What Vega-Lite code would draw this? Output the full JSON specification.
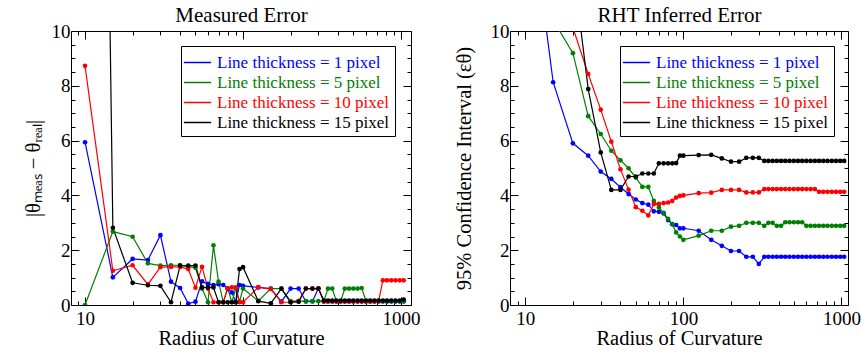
{
"$schema": "https://vega.github.io/schema/vega-lite/v6.json",
"padding": {"left": 22, "top": 4, "right": 5, "bottom": 0},
"config": {
  "font": "Liberation Serif, serif",
  "view": {"stroke": "#000", "strokeWidth": 1},
  "style": {"guide-label": {"font": "Liberation Serif, serif", "fontWeight": "normal"}, "guide-title": {"font": "Liberation Serif, serif", "fontWeight": "normal"}},
  "axis": {"labelFont": "Liberation Serif, serif", "labelFontSize": 19, "labelColor": "#000", "titleFont": "Liberation Serif, serif", "titleFontSize": 20.5, "titleFontWeight": "normal", "titleColor": "#000", "domain": false, "tickColor": "#000", "grid": false, "labelOverlap": false, "labelFlush": false},
  "legend": {"orient": "none", "legendX": 110, "legendY": 15, "padding": 5, "strokeColor": "#000", "fillColor": "#fff", "symbolType": "M-1.3,0H1.3", "symbolSize": 441, "symbolStrokeWidth": 1.5, "labelFontSize": 17, "labelFont": "Liberation Serif, serif", "labelOffset": 8, "rowPadding": 0, "labelLimit": 300}
},
"datasets": {
"measured": [
{"r":10,"s":"a","v":5.94},{"r":15,"s":"a","v":1.01},{"r":20,"s":"a","v":1.68},{"r":25,"s":"a","v":1.64},{"r":30,"s":"a","v":2.55},{"r":35,"s":"a","v":0.85},{"r":40,"s":"a","v":0.62},{"r":45,"s":"a","v":0.05},{"r":50,"s":"a","v":0.12},{"r":55,"s":"a","v":0.86},{"r":60,"s":"a","v":0.77},{"r":65,"s":"a","v":0.73},{"r":70,"s":"a","v":0.76},{"r":75,"s":"a","v":0.73},{"r":80,"s":"a","v":0.58},{"r":85,"s":"a","v":0.46},{"r":90,"s":"a","v":0.1},{"r":95,"s":"a","v":0.73},{"r":100,"s":"a","v":0.7},{"r":125,"s":"a","v":0.64},{"r":150,"s":"a","v":0.6},{"r":175,"s":"a","v":0.12},{"r":200,"s":"a","v":0.6},{"r":225,"s":"a","v":0.6},{"r":250,"s":"a","v":0.13},{"r":275,"s":"a","v":0.13},{"r":300,"s":"a","v":0.6},{"r":325,"s":"a","v":0.13},{"r":345,"s":"a","v":0.13},{"r":367,"s":"a","v":0.13},{"r":390,"s":"a","v":0.13},{"r":415,"s":"a","v":0.13},{"r":441,"s":"a","v":0.13},{"r":469,"s":"a","v":0.13},{"r":499,"s":"a","v":0.13},{"r":531,"s":"a","v":0.13},{"r":564,"s":"a","v":0.13},{"r":600,"s":"a","v":0.13},{"r":638,"s":"a","v":0.13},{"r":679,"s":"a","v":0.13},{"r":722,"s":"a","v":0.13},{"r":768,"s":"a","v":0.13},{"r":816,"s":"a","v":0.13},{"r":868,"s":"a","v":0.13},{"r":923,"s":"a","v":0.13},{"r":982,"s":"a","v":0.13},{"r":1040,"s":"a","v":0.13},
{"r":10,"s":"b","v":0},{"r":15,"s":"b","v":2.68},{"r":20,"s":"b","v":2.49},{"r":25,"s":"b","v":1.52},{"r":30,"s":"b","v":1.44},{"r":35,"s":"b","v":1.45},{"r":40,"s":"b","v":1.45},{"r":45,"s":"b","v":1.4},{"r":50,"s":"b","v":1.36},{"r":55,"s":"b","v":0.6},{"r":60,"s":"b","v":0.1},{"r":65,"s":"b","v":2.18},{"r":70,"s":"b","v":0.85},{"r":75,"s":"b","v":0.1},{"r":80,"s":"b","v":0.62},{"r":85,"s":"b","v":0.1},{"r":90,"s":"b","v":0.6},{"r":95,"s":"b","v":0.12},{"r":100,"s":"b","v":0.6},{"r":125,"s":"b","v":0.15},{"r":150,"s":"b","v":0.6},{"r":175,"s":"b","v":0.6},{"r":200,"s":"b","v":0.14},{"r":225,"s":"b","v":0.14},{"r":250,"s":"b","v":0.14},{"r":275,"s":"b","v":0.14},{"r":300,"s":"b","v":0.14},{"r":325,"s":"b","v":0.14},{"r":345,"s":"b","v":0.6},{"r":367,"s":"b","v":0.6},{"r":390,"s":"b","v":0.14},{"r":415,"s":"b","v":0.14},{"r":441,"s":"b","v":0.6},{"r":469,"s":"b","v":0.6},{"r":499,"s":"b","v":0.6},{"r":531,"s":"b","v":0.6},{"r":564,"s":"b","v":0.62},{"r":600,"s":"b","v":0.14},{"r":638,"s":"b","v":0.14},{"r":679,"s":"b","v":0.14},{"r":722,"s":"b","v":0.14},{"r":768,"s":"b","v":0.14},{"r":816,"s":"b","v":0.14},{"r":868,"s":"b","v":0.14},{"r":923,"s":"b","v":0.14},{"r":982,"s":"b","v":0.14},{"r":1040,"s":"b","v":0.14},
{"r":10,"s":"c","v":8.73},{"r":15,"s":"c","v":1.25},{"r":20,"s":"c","v":1.45},{"r":25,"s":"c","v":0.75},{"r":30,"s":"c","v":1.38},{"r":35,"s":"c","v":1.39},{"r":40,"s":"c","v":1.39},{"r":45,"s":"c","v":1.31},{"r":50,"s":"c","v":0.63},{"r":55,"s":"c","v":1.39},{"r":60,"s":"c","v":0.6},{"r":65,"s":"c","v":0.1},{"r":70,"s":"c","v":0.1},{"r":75,"s":"c","v":0.1},{"r":80,"s":"c","v":0.6},{"r":85,"s":"c","v":0.64},{"r":90,"s":"c","v":0.64},{"r":95,"s":"c","v":0.1},{"r":100,"s":"c","v":0.1},{"r":125,"s":"c","v":0.65},{"r":150,"s":"c","v":0.58},{"r":175,"s":"c","v":0.1},{"r":200,"s":"c","v":0.1},{"r":225,"s":"c","v":0.14},{"r":250,"s":"c","v":0.6},{"r":275,"s":"c","v":0.6},{"r":300,"s":"c","v":0.6},{"r":325,"s":"c","v":0.13},{"r":345,"s":"c","v":0.13},{"r":367,"s":"c","v":0.13},{"r":390,"s":"c","v":0.13},{"r":415,"s":"c","v":0.13},{"r":441,"s":"c","v":0.13},{"r":469,"s":"c","v":0.13},{"r":499,"s":"c","v":0.13},{"r":531,"s":"c","v":0.13},{"r":564,"s":"c","v":0.13},{"r":600,"s":"c","v":0.13},{"r":638,"s":"c","v":0.13},{"r":679,"s":"c","v":0.13},{"r":722,"s":"c","v":0.15},{"r":768,"s":"c","v":0.9},{"r":816,"s":"c","v":0.9},{"r":868,"s":"c","v":0.9},{"r":923,"s":"c","v":0.9},{"r":982,"s":"c","v":0.9},{"r":1040,"s":"c","v":0.9},
{"r":10,"s":"d","v":75},{"r":15,"s":"d","v":2.82},{"r":20,"s":"d","v":0.81},{"r":25,"s":"d","v":0.72},{"r":30,"s":"d","v":0.7},{"r":35,"s":"d","v":0.1},{"r":40,"s":"d","v":1.44},{"r":45,"s":"d","v":1.44},{"r":50,"s":"d","v":1.44},{"r":55,"s":"d","v":0.64},{"r":60,"s":"d","v":0.64},{"r":65,"s":"d","v":0.64},{"r":70,"s":"d","v":0.1},{"r":75,"s":"d","v":0.1},{"r":80,"s":"d","v":0.1},{"r":85,"s":"d","v":0.1},{"r":90,"s":"d","v":0.1},{"r":95,"s":"d","v":1.31},{"r":100,"s":"d","v":1.38},{"r":125,"s":"d","v":0.14},{"r":150,"s":"d","v":0.06},{"r":175,"s":"d","v":0.6},{"r":200,"s":"d","v":0.1},{"r":225,"s":"d","v":0.12},{"r":250,"s":"d","v":0.6},{"r":275,"s":"d","v":0.6},{"r":300,"s":"d","v":0.6},{"r":325,"s":"d","v":0.16},{"r":345,"s":"d","v":0.16},{"r":367,"s":"d","v":0.16},{"r":390,"s":"d","v":0.16},{"r":415,"s":"d","v":0.16},{"r":441,"s":"d","v":0.16},{"r":469,"s":"d","v":0.16},{"r":499,"s":"d","v":0.16},{"r":531,"s":"d","v":0.16},{"r":564,"s":"d","v":0.16},{"r":600,"s":"d","v":0.16},{"r":638,"s":"d","v":0.16},{"r":679,"s":"d","v":0.16},{"r":722,"s":"d","v":0.16},{"r":768,"s":"d","v":0.16},{"r":816,"s":"d","v":0.16},{"r":868,"s":"d","v":0.16},{"r":923,"s":"d","v":0.16},{"r":982,"s":"d","v":0.16},{"r":1040,"s":"d","v":0.2}
],
"inferred": [
{"r":10,"s":"a","v":16},{"r":15,"s":"a","v":8.13},{"r":20,"s":"a","v":5.9},{"r":25,"s":"a","v":5.45},{"r":30,"s":"a","v":4.87},{"r":35,"s":"a","v":4.6},{"r":40,"s":"a","v":4.3},{"r":45,"s":"a","v":4.05},{"r":50,"s":"a","v":3.85},{"r":55,"s":"a","v":3.72},{"r":60,"s":"a","v":3.66},{"r":65,"s":"a","v":3.42},{"r":70,"s":"a","v":3.4},{"r":75,"s":"a","v":3.34},{"r":80,"s":"a","v":3.1},{"r":85,"s":"a","v":2.95},{"r":90,"s":"a","v":2.92},{"r":95,"s":"a","v":2.8},{"r":100,"s":"a","v":2.8},{"r":125,"s":"a","v":2.71},{"r":150,"s":"a","v":2.38},{"r":175,"s":"a","v":2.16},{"r":200,"s":"a","v":1.97},{"r":225,"s":"a","v":1.97},{"r":250,"s":"a","v":1.76},{"r":275,"s":"a","v":1.76},{"r":300,"s":"a","v":1.5},{"r":325,"s":"a","v":1.76},{"r":345,"s":"a","v":1.76},{"r":367,"s":"a","v":1.76},{"r":390,"s":"a","v":1.76},{"r":415,"s":"a","v":1.76},{"r":441,"s":"a","v":1.76},{"r":469,"s":"a","v":1.76},{"r":499,"s":"a","v":1.76},{"r":531,"s":"a","v":1.76},{"r":564,"s":"a","v":1.76},{"r":600,"s":"a","v":1.76},{"r":638,"s":"a","v":1.76},{"r":679,"s":"a","v":1.76},{"r":722,"s":"a","v":1.76},{"r":768,"s":"a","v":1.76},{"r":816,"s":"a","v":1.76},{"r":868,"s":"a","v":1.76},{"r":923,"s":"a","v":1.76},{"r":982,"s":"a","v":1.76},{"r":1040,"s":"a","v":1.76},
{"r":10,"s":"b","v":14},{"r":15,"s":"b","v":10.4},{"r":20,"s":"b","v":9.19},{"r":25,"s":"b","v":6.89},{"r":30,"s":"b","v":6.24},{"r":35,"s":"b","v":5.63},{"r":40,"s":"b","v":5.28},{"r":45,"s":"b","v":4.99},{"r":50,"s":"b","v":4.65},{"r":55,"s":"b","v":4.31},{"r":60,"s":"b","v":4.31},{"r":65,"s":"b","v":3.8},{"r":70,"s":"b","v":3.56},{"r":75,"s":"b","v":3.36},{"r":80,"s":"b","v":3.14},{"r":85,"s":"b","v":2.95},{"r":90,"s":"b","v":2.65},{"r":95,"s":"b","v":2.5},{"r":100,"s":"b","v":2.38},{"r":125,"s":"b","v":2.53},{"r":150,"s":"b","v":2.71},{"r":175,"s":"b","v":2.71},{"r":200,"s":"b","v":2.86},{"r":225,"s":"b","v":2.89},{"r":250,"s":"b","v":3.0},{"r":275,"s":"b","v":3.0},{"r":300,"s":"b","v":3.0},{"r":325,"s":"b","v":2.89},{"r":345,"s":"b","v":3.0},{"r":367,"s":"b","v":3.0},{"r":390,"s":"b","v":2.89},{"r":415,"s":"b","v":2.89},{"r":441,"s":"b","v":3.02},{"r":469,"s":"b","v":3.02},{"r":499,"s":"b","v":3.02},{"r":531,"s":"b","v":3.02},{"r":564,"s":"b","v":3.02},{"r":600,"s":"b","v":2.89},{"r":638,"s":"b","v":2.89},{"r":679,"s":"b","v":2.89},{"r":722,"s":"b","v":2.89},{"r":768,"s":"b","v":2.89},{"r":816,"s":"b","v":2.89},{"r":868,"s":"b","v":2.89},{"r":923,"s":"b","v":2.89},{"r":982,"s":"b","v":2.89},{"r":1040,"s":"b","v":2.89},
{"r":10,"s":"c","v":16},{"r":15,"s":"c","v":12.5},{"r":20,"s":"c","v":10.12},{"r":25,"s":"c","v":8.43},{"r":30,"s":"c","v":7.13},{"r":35,"s":"c","v":5.96},{"r":40,"s":"c","v":4.95},{"r":45,"s":"c","v":4.21},{"r":50,"s":"c","v":3.57},{"r":55,"s":"c","v":3.44},{"r":60,"s":"c","v":3.27},{"r":65,"s":"c","v":3.69},{"r":70,"s":"c","v":3.69},{"r":75,"s":"c","v":3.72},{"r":80,"s":"c","v":3.74},{"r":85,"s":"c","v":3.8},{"r":90,"s":"c","v":3.92},{"r":95,"s":"c","v":3.98},{"r":100,"s":"c","v":4.0},{"r":125,"s":"c","v":4.08},{"r":150,"s":"c","v":4.1},{"r":175,"s":"c","v":4.2},{"r":200,"s":"c","v":4.2},{"r":225,"s":"c","v":4.2},{"r":250,"s":"c","v":4.11},{"r":275,"s":"c","v":4.11},{"r":300,"s":"c","v":4.11},{"r":325,"s":"c","v":4.23},{"r":345,"s":"c","v":4.23},{"r":367,"s":"c","v":4.23},{"r":390,"s":"c","v":4.23},{"r":415,"s":"c","v":4.23},{"r":441,"s":"c","v":4.23},{"r":469,"s":"c","v":4.23},{"r":499,"s":"c","v":4.23},{"r":531,"s":"c","v":4.23},{"r":564,"s":"c","v":4.23},{"r":600,"s":"c","v":4.23},{"r":638,"s":"c","v":4.23},{"r":679,"s":"c","v":4.23},{"r":722,"s":"c","v":4.13},{"r":768,"s":"c","v":4.13},{"r":816,"s":"c","v":4.13},{"r":868,"s":"c","v":4.13},{"r":923,"s":"c","v":4.13},{"r":982,"s":"c","v":4.13},{"r":1040,"s":"c","v":4.13},
{"r":10,"s":"d","v":20},{"r":15,"s":"d","v":16},{"r":20,"s":"d","v":12.4},{"r":25,"s":"d","v":7.88},{"r":30,"s":"d","v":5.57},{"r":35,"s":"d","v":4.2},{"r":40,"s":"d","v":4.2},{"r":45,"s":"d","v":4.69},{"r":50,"s":"d","v":4.69},{"r":55,"s":"d","v":4.8},{"r":60,"s":"d","v":4.8},{"r":65,"s":"d","v":4.8},{"r":70,"s":"d","v":5.17},{"r":75,"s":"d","v":5.17},{"r":80,"s":"d","v":5.17},{"r":85,"s":"d","v":5.17},{"r":90,"s":"d","v":5.18},{"r":95,"s":"d","v":5.45},{"r":100,"s":"d","v":5.45},{"r":125,"s":"d","v":5.47},{"r":150,"s":"d","v":5.48},{"r":175,"s":"d","v":5.35},{"r":200,"s":"d","v":5.23},{"r":225,"s":"d","v":5.23},{"r":250,"s":"d","v":5.37},{"r":275,"s":"d","v":5.37},{"r":300,"s":"d","v":5.37},{"r":325,"s":"d","v":5.26},{"r":345,"s":"d","v":5.26},{"r":367,"s":"d","v":5.26},{"r":390,"s":"d","v":5.26},{"r":415,"s":"d","v":5.26},{"r":441,"s":"d","v":5.26},{"r":469,"s":"d","v":5.26},{"r":499,"s":"d","v":5.26},{"r":531,"s":"d","v":5.26},{"r":564,"s":"d","v":5.26},{"r":600,"s":"d","v":5.26},{"r":638,"s":"d","v":5.26},{"r":679,"s":"d","v":5.26},{"r":722,"s":"d","v":5.26},{"r":768,"s":"d","v":5.26},{"r":816,"s":"d","v":5.26},{"r":868,"s":"d","v":5.26},{"r":923,"s":"d","v":5.26},{"r":982,"s":"d","v":5.26},{"r":1040,"s":"d","v":5.26}
]
},
"spacing": 32,
"resolve": {"scale": {"color": "independent"}, "legend": {"color": "independent"}},
"hconcat": [
{
  "width": 340, "height": 274,
  "data": {"name": "measured"},
  "layer": [
    {"mark": {"type": "line", "clip": true, "strokeWidth": 1.2},
     "encoding": {
       "x": {"field": "r", "type": "quantitative", "scale": {"type": "log", "domain": [8.15, 1157], "nice": false},
             "axis": {"orient": "bottom", "title": "Radius of Curvature", "values": [9,10,20,30,40,50,60,70,80,90,100,200,300,400,500,600,700,800,900,1000],
                      "labelExpr": "datum.value == 10 || datum.value == 100 || datum.value == 1000 ? '' + datum.value : ''",
                      "tickSize": {"condition": {"test": "datum.value == 10 || datum.value == 100 || datum.value == 1000", "value": -8}, "value": -4},
                      "labelFont": "Liberation Serif, serif", "titleFont": "Liberation Serif, serif", "titleFontWeight": "normal",
                      "labelPadding": 12, "titlePadding": -4}},
       "y": {"field": "v", "type": "quantitative", "scale": {"domain": [0, 10], "nice": false},
             "axis": {"orient": "left", "title": "|θₘₑₐₛ − θᵣₑₐₗ|", "values": [0,0.5,1,1.5,2,2.5,3,3.5,4,4.5,5,5.5,6,6.5,7,7.5,8,8.5,9,9.5,10],
                      "labelExpr": "datum.value % 2 == 0 ? '' + datum.value : ''",
                      "tickSize": {"condition": {"test": "datum.value % 2 == 0", "value": -8}, "value": -4},
                      "labelFont": "Liberation Serif, serif", "titleFont": "Liberation Serif, serif", "titleFontWeight": "normal",
                      "labelPadding": 9, "titlePadding": 8}},
       "color": {"field": "s", "type": "nominal", "scale": {"domain": ["a","b","c","d"], "range": ["#0000ff","#008000","#ff0000","#000000"]},
                 "legend": {"title": null,
                            "labelExpr": "datum.label == 'a' ? 'Line thickness = 1 pixel' : datum.label == 'b' ? 'Line thickness = 5 pixel' : datum.label == 'c' ? 'Line thickness = 10 pixel' : 'Line thickness = 15 pixel'",
                            "encode": {"labels": {"update": {"fill": {"signal": "datum.value == 'a' ? '#0000ff' : datum.value == 'b' ? '#008000' : datum.value == 'c' ? '#ff0000' : '#000000'"}}}}}}
     }},
    {"mark": {"type": "point", "filled": true, "size": 22, "opacity": 1, "clip": true},
     "encoding": {
       "x": {"field": "r", "type": "quantitative", "scale": {"type": "log", "domain": [8.15, 1157], "nice": false},
             "axis": {"orient": "top", "title": "Measured Error", "titleFontSize": 21, "titlePadding": 5, "labels": false, "values": [9,10,20,30,40,50,60,70,80,90,100,200,300,400,500,600,700,800,900,1000],
                      "tickSize": {"condition": {"test": "datum.value == 10 || datum.value == 100 || datum.value == 1000", "value": -8}, "value": -4}}},
       "y": {"field": "v", "type": "quantitative", "scale": {"domain": [0, 10], "nice": false},
             "axis": {"orient": "right", "title": null, "labels": false, "values": [0,0.5,1,1.5,2,2.5,3,3.5,4,4.5,5,5.5,6,6.5,7,7.5,8,8.5,9,9.5,10],
                      "tickSize": {"condition": {"test": "datum.value % 2 == 0", "value": -8}, "value": -4}}},
       "color": {"field": "s", "type": "nominal", "scale": {"domain": ["a","b","c","d"], "range": ["#0000ff","#008000","#ff0000","#000000"]}},
       "order": {"field": "s", "type": "ordinal"}
     }}
  ],
  "resolve": {"axis": {"x": "independent", "y": "independent"}}
},
{
  "width": 338, "height": 274,
  "data": {"name": "inferred"},
  "layer": [
    {"mark": {"type": "line", "clip": true, "strokeWidth": 1.2},
     "encoding": {
       "x": {"field": "r", "type": "quantitative", "scale": {"type": "log", "domain": [8.0, 1100], "nice": false},
             "axis": {"orient": "bottom", "title": "Radius of Curvature", "values": [9,10,20,30,40,50,60,70,80,90,100,200,300,400,500,600,700,800,900,1000],
                      "labelExpr": "datum.value == 10 || datum.value == 100 || datum.value == 1000 ? '' + datum.value : ''",
                      "tickSize": {"condition": {"test": "datum.value == 10 || datum.value == 100 || datum.value == 1000", "value": -8}, "value": -4},
                      "labelFont": "Liberation Serif, serif", "titleFont": "Liberation Serif, serif", "titleFontWeight": "normal",
                      "labelPadding": 12, "titlePadding": -4}},
       "y": {"field": "v", "type": "quantitative", "scale": {"domain": [0, 10], "nice": false},
             "axis": {"orient": "left", "title": "95% Confidence Interval (εθ)", "values": [0,0.5,1,1.5,2,2.5,3,3.5,4,4.5,5,5.5,6,6.5,7,7.5,8,8.5,9,9.5,10],
                      "labelExpr": "datum.value % 2 == 0 ? '' + datum.value : ''",
                      "tickSize": {"condition": {"test": "datum.value % 2 == 0", "value": -8}, "value": -4},
                      "labelFont": "Liberation Serif, serif", "titleFont": "Liberation Serif, serif", "titleFontWeight": "normal",
                      "labelPadding": 9, "titlePadding": 16}},
       "color": {"field": "s", "type": "nominal", "scale": {"domain": ["a","b","c","d"], "range": ["#0000ff","#008000","#ff0000","#000000"]},
                 "legend": {"title": null,
                            "labelExpr": "datum.label == 'a' ? 'Line thickness = 1 pixel' : datum.label == 'b' ? 'Line thickness = 5 pixel' : datum.label == 'c' ? 'Line thickness = 10 pixel' : 'Line thickness = 15 pixel'",
                            "encode": {"labels": {"update": {"fill": {"signal": "datum.value == 'a' ? '#0000ff' : datum.value == 'b' ? '#008000' : datum.value == 'c' ? '#ff0000' : '#000000'"}}}}}}
     }},
    {"mark": {"type": "point", "filled": true, "size": 22, "opacity": 1, "clip": true},
     "encoding": {
       "x": {"field": "r", "type": "quantitative", "scale": {"type": "log", "domain": [8.0, 1100], "nice": false},
             "axis": {"orient": "top", "title": "RHT Inferred Error", "titleFontSize": 21, "titlePadding": 5, "labels": false, "values": [9,10,20,30,40,50,60,70,80,90,100,200,300,400,500,600,700,800,900,1000],
                      "tickSize": {"condition": {"test": "datum.value == 10 || datum.value == 100 || datum.value == 1000", "value": -8}, "value": -4}}},
       "y": {"field": "v", "type": "quantitative", "scale": {"domain": [0, 10], "nice": false},
             "axis": {"orient": "right", "title": null, "labels": false, "values": [0,0.5,1,1.5,2,2.5,3,3.5,4,4.5,5,5.5,6,6.5,7,7.5,8,8.5,9,9.5,10],
                      "tickSize": {"condition": {"test": "datum.value % 2 == 0", "value": -8}, "value": -4}}},
       "color": {"field": "s", "type": "nominal", "scale": {"domain": ["a","b","c","d"], "range": ["#0000ff","#008000","#ff0000","#000000"]}},
       "order": {"field": "s", "type": "ordinal"}
     }}
  ],
  "resolve": {"axis": {"x": "independent", "y": "independent"}}
}
]
}
